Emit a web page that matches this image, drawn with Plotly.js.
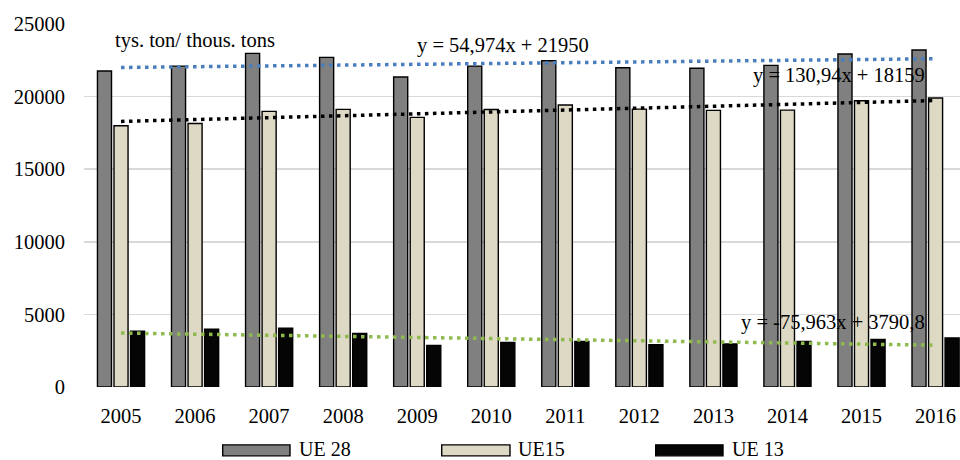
<!DOCTYPE html>
<html>
<head>
<meta charset="utf-8">
<script src="https://cdn.plot.ly/plotly-3.0.1.min.js"></script>
<style>
html,body{margin:0;padding:0;overflow:hidden;background:#fff;}
#chart{width:960px;height:460px;}
</style>
</head>
<body>
<div id="chart"></div>
<script>
// ---- data ----
var years = ["2005","2006","2007","2008","2009","2010","2011","2012","2013","2014","2015","2016"];
var ue28 = [21760, 22100, 22980, 22700, 21350, 22100, 22470, 21990, 21950, 22150, 22930, 23210];
var ue15 = [17990, 18150, 18980, 19120, 18570, 19110, 19420, 19140, 19050, 19070, 19710, 19900];
var ue13 = [3840, 3980, 4050, 3680, 2870, 3060, 3130, 2920, 2960, 3130, 3270, 3380];
var seriesNames = ["UE 28", "UE15", "UE 13"];
// trend-line coefficients as printed on the chart (x = 1..12)
var trendSlopes = [54.974, 130.94, -75.963];
var trendIntercepts = [21950, 18159, 3790.8];
var trendLabels = ["y = 54,974x + 21950", "y = 130,94x + 18159", "y = -75,963x + 3790,8"];
var unitLabel = "tys. ton/ thous. tons";
var yTicks = [0, 5000, 10000, 15000, 20000, 25000];

// ---- styling ----
var FONT = "Liberation Serif";
var barColors = ["#808080", "#DDD9C4", "#050505"];
var trendColors = ["#4A7EBF", "#000000", "#8FBA4E"];
var values = [ue28, ue15, ue13];

var traces = [];
for (var s = 0; s < 3; s++) {
  traces.push({
    type: "bar", x: years, y: values[s], name: seriesNames[s],
    marker: {color: barColors[s], line: {color: "#000000", width: 1.4}},
    showlegend: false, hoverinfo: "skip"
  });
}
for (var t = 0; t < 3; t++) {
  var ty = years.map(function (_, i) { return trendSlopes[t] * (i + 1) + trendIntercepts[t]; });
  traces.push({
    type: "scatter", mode: "lines", x: years, y: ty,
    line: {color: trendColors[t], width: 3.5, dash: "3.5px,4.5px"},
    showlegend: false, hoverinfo: "skip"
  });
}

// plot area geometry helpers (paper coords)
var L = 84, R = 960, T = 24, B = 386.7;
function px(x) { return (x - L) / (R - L); }
function py(y) { return (B - y) / (B - T); }

var annotations = [
  {text: unitLabel, x: px(195), y: py(40)},
  {text: trendLabels[0], x: px(503), y: py(45)},
  {text: trendLabels[1], x: px(839), y: py(75)},
  {text: trendLabels[2], x: px(832.5), y: py(322.7)}
].map(function (a) {
  return {text: a.text, x: a.x, y: a.y, xref: "paper", yref: "paper",
          xanchor: "center", yanchor: "middle", showarrow: false, borderpad: 0,
          font: {family: FONT, size: 20.5, color: "#000"}};
});

// manual legend (wide swatches as in the reference)
var legendSw = [[222.7, 290], [441.7, 510], [655.7, 723]];
var legendTextX = [297.5, 516.5, 730.5];
var shapes = [];
for (var k = 0; k < 3; k++) {
  shapes.push({type: "rect", xref: "paper", yref: "paper",
    x0: px(legendSw[k][0]), x1: px(legendSw[k][1]), y0: py(455.5), y1: py(444.5),
    fillcolor: barColors[k], line: {color: "#000", width: 1.4}});
  annotations.push({text: seriesNames[k], x: px(legendTextX[k]), y: py(448.5),
    xref: "paper", yref: "paper", xanchor: "left", yanchor: "middle", showarrow: false,
    borderpad: 0, font: {family: FONT, size: 20, color: "#000"}});
}

var layout = {
  width: 960, height: 460,
  margin: {l: L, r: 0, t: T, b: 460 - B, pad: 0},
  paper_bgcolor: "#fff", plot_bgcolor: "#fff",
  barmode: "group", bargap: 0.33, bargroupgap: 0.15,
  font: {family: FONT, size: 20.5, color: "#000"},
  xaxis: {type: "category", range: [-0.5, 11.33], showgrid: false, zeroline: false,
          showline: false, ticks: "", ticklabelstandoff: 14,
          tickfont: {family: FONT, size: 20.5, color: "#000"}, fixedrange: true},
  yaxis: {range: [0, 25000], tickvals: yTicks, ticktext: yTicks.map(String),
          showgrid: true, gridcolor: "#D9D9D9", gridwidth: 1.5, zeroline: false,
          showline: false, ticks: "", ticklabelstandoff: 18,
          tickfont: {family: FONT, size: 20.5, color: "#000"}, fixedrange: true},
  annotations: annotations,
  shapes: shapes
};

Plotly.newPlot("chart", traces, layout, {staticPlot: true, displayModeBar: false});
</script>
</body>
</html>
